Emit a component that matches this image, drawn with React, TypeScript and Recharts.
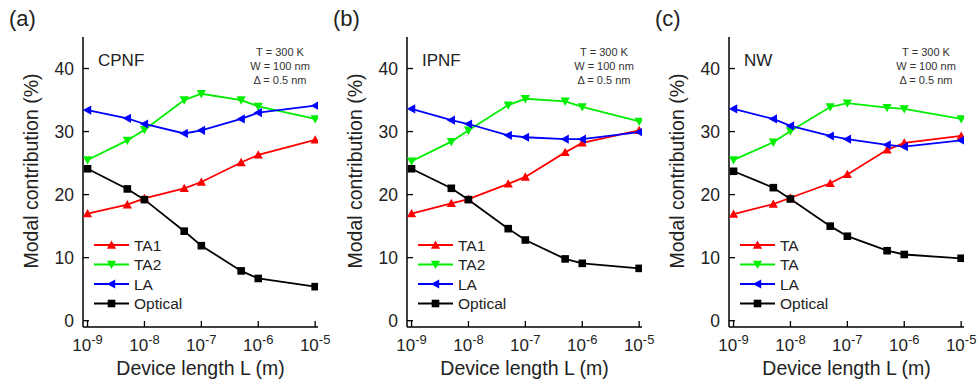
import React from 'react'
import { LineChart, Line, XAxis, YAxis } from 'recharts'

// device lengths (m)
const lengths = [1e-9, 5e-9, 1e-8, 5e-8, 1e-7, 5e-7, 1e-6, 1e-5]

const cpnfTA1 = [17.0, 18.4, 19.4, 21.0, 22.0, 25.1, 26.3, 28.7]
const cpnfTA2 = [25.5, 28.6, 30.3, 35.0, 36.0, 35.0, 34.0, 32.0]
const cpnfLA = [33.4, 32.1, 31.2, 29.7, 30.2, 32.0, 33.0, 34.1]
const cpnfOpt = [24.1, 20.9, 19.2, 14.2, 11.9, 7.9, 6.7, 5.4]

const ipnfTA1 = [17.0, 18.6, 19.3, 21.7, 22.8, 26.7, 28.2, 30.2]
const ipnfTA2 = [25.3, 28.4, 30.2, 34.2, 35.2, 34.8, 33.9, 31.6]
const ipnfLA = [33.6, 31.8, 31.2, 29.4, 29.1, 28.8, 28.8, 29.9]
const ipnfOpt = [24.1, 21.0, 19.2, 14.6, 12.8, 9.8, 9.1, 8.3]

const nwTA1 = [16.9, 18.5, 19.5, 21.8, 23.2, 27.1, 28.2, 29.3]
const nwTA2 = [25.5, 28.3, 30.1, 33.9, 34.5, 33.8, 33.6, 32.0]
const nwLA = [33.6, 32.0, 30.9, 29.3, 28.8, 27.9, 27.6, 28.6]
const nwOpt = [23.7, 21.1, 19.3, 15.0, 13.4, 11.1, 10.5, 9.9]

const xMajorTicks = [1e-9, 1e-8, 1e-7, 1e-6, 1e-5]
const minorMultipliers = [2, 3, 4, 5, 6, 7, 8, 9]
const xMinorTicks = [1e-9, 1e-8, 1e-7, 1e-6].flatMap(d => minorMultipliers.map(m => m * d))
const yMajorTicks = [0, 10, 20, 30, 40]
const yMinorTicks = [5, 15, 25, 35]

const X_DOMAIN = [Math.pow(10, -9.08), Math.pow(10, -4.95)]
const Y_DOMAIN = [-1, 45]

const FONT = 'Arial, "Liberation Sans", sans-serif'

const seriesStyle = [
  { key: 'ta1', color: '#ff0000', shape: 'up' },
  { key: 'ta2', color: '#00ee00', shape: 'down' },
  { key: 'la', color: '#0000ff', shape: 'left' },
  { key: 'opt', color: '#000000', shape: 'square' },
]

const panels = [
  { letter: '(a)', name: 'CPNF', left: 0, legend: ['TA1', 'TA2', 'LA', 'Optical'], values: [cpnfTA1, cpnfTA2, cpnfLA, cpnfOpt] },
  { letter: '(b)', name: 'IPNF', left: 324, legend: ['TA1', 'TA2', 'LA', 'Optical'], values: [ipnfTA1, ipnfTA2, ipnfLA, ipnfOpt] },
  { letter: '(c)', name: 'NW', left: 646, legend: ['TA', 'TA', 'LA', 'Optical'], values: [nwTA1, nwTA2, nwLA, nwOpt] },
]

const W = 340
const H = 385
const M = { top: 37, right: 22, bottom: 18, left: 23 }
const Y_AXIS_W = 60
const PLOT_L = M.left + Y_AXIS_W
const PLOT_R = W - M.right

function Marker({ cx, cy, shape, color }: { cx: number; cy: number; shape: string; color: string }) {
  const r = 4.6
  if (shape === 'square') {
    return <rect x={cx - 3.8} y={cy - 3.8} width={7.6} height={7.6} fill={color} />
  }
  let pts = ''
  if (shape === 'up') pts = `${cx},${cy - r} ${cx + r},${cy + r * 0.8} ${cx - r},${cy + r * 0.8}`
  if (shape === 'down') pts = `${cx},${cy + r} ${cx + r},${cy - r * 0.8} ${cx - r},${cy - r * 0.8}`
  if (shape === 'left') pts = `${cx - r},${cy} ${cx + r * 0.8},${cy - r} ${cx + r * 0.8},${cy + r}`
  return <polygon points={pts} fill={color} />
}

function XTick(props: any) {
  const { x, y, payload } = props
  const exp = Math.round(Math.log10(payload.value))
  return (
    <text x={x} y={y + 25} textAnchor="middle" fontSize={17} fill="#222" fontFamily={FONT}>
      <tspan>10</tspan>
      <tspan dy={-7} fontSize={13}>{exp}</tspan>
    </text>
  )
}

function YTick(props: any) {
  const { x, y, payload } = props
  return (
    <text x={x} y={y} dy={6} textAnchor="end" fontSize={17.5} fill="#222" fontFamily={FONT}>
      {payload.value}
    </text>
  )
}

const noTick = () => <g />

const axisLine = { stroke: '#000', strokeWidth: 1.5 }
const tickLine = { stroke: '#000', strokeWidth: 1.3 }

function Panel({ panel }: { panel: (typeof panels)[number] }) {
  const rows = lengths.map((L, i) => ({
    L,
    ta1: panel.values[0][i],
    ta2: panel.values[1][i],
    la: panel.values[2][i],
    opt: panel.values[3][i],
  }))
  const plotCx = (PLOT_L + PLOT_R) / 2
  return (
    <div style={{ position: 'absolute', left: panel.left, top: 0, width: W, height: H }}>
      <LineChart width={W} height={H} data={rows} margin={M}>
        <XAxis xAxisId="b" dataKey="L" type="number" scale="log" domain={X_DOMAIN} allowDataOverflow
          ticks={xMajorTicks} interval={0} tickSize={-6} tickMargin={5} height={40}
          tick={<XTick />} axisLine={axisLine} tickLine={tickLine} />
        <XAxis xAxisId="bm" dataKey="L" type="number" scale="log" domain={X_DOMAIN} allowDataOverflow mirror
          ticks={xMinorTicks} interval={0} tickSize={3} height={0} tick={noTick} axisLine={axisLine} tickLine={tickLine} />
        <XAxis xAxisId="t" orientation="top" dataKey="L" type="number" scale="log" domain={X_DOMAIN} allowDataOverflow mirror
          ticks={xMajorTicks} interval={0} tickSize={6} height={0} tick={noTick} axisLine={axisLine} tickLine={tickLine} />
        <XAxis xAxisId="tm" orientation="top" dataKey="L" type="number" scale="log" domain={X_DOMAIN} allowDataOverflow mirror
          ticks={xMinorTicks} interval={0} tickSize={3} height={0} tick={noTick} axisLine={axisLine} tickLine={tickLine} />
        <YAxis yAxisId="l" type="number" domain={Y_DOMAIN} allowDataOverflow ticks={yMajorTicks} interval={0}
          tickSize={-6} tickMargin={15} width={Y_AXIS_W} tick={<YTick />} axisLine={axisLine} tickLine={tickLine} />
        <YAxis yAxisId="lm" type="number" domain={Y_DOMAIN} allowDataOverflow mirror ticks={yMinorTicks} interval={0}
          tickSize={3} width={0} tick={noTick} axisLine={axisLine} tickLine={tickLine} />
        <YAxis yAxisId="r" orientation="right" type="number" domain={Y_DOMAIN} allowDataOverflow mirror ticks={yMajorTicks} interval={0}
          tickSize={6} width={0} tick={noTick} axisLine={axisLine} tickLine={tickLine} />
        <YAxis yAxisId="rm" orientation="right" type="number" domain={Y_DOMAIN} allowDataOverflow mirror ticks={yMinorTicks} interval={0}
          tickSize={3} width={0} tick={noTick} axisLine={axisLine} tickLine={tickLine} />
        {seriesStyle.map(s => (
          <Line key={s.key} xAxisId="b" yAxisId="l" dataKey={s.key} stroke={s.color} strokeWidth={1.8}
            isAnimationActive={false}
            dot={(p: any) => <Marker key={`${s.key}-${p.index}`} cx={p.cx} cy={p.cy} shape={s.shape} color={s.color} />} />
        ))}
      </LineChart>
      <svg width={W} height={H} style={{ position: 'absolute', left: 0, top: 0, pointerEvents: 'none' }} fontFamily={FONT}>
        <text x={9} y={26} fontSize={22} fill="#222">{panel.letter}</text>
        <text transform={`translate(38,${171}) rotate(-90)`} textAnchor="middle" fontSize={19.5} fill="#222">
          Modal contribution (%)
        </text>
        <text x={plotCx} y={375} textAnchor="middle" fontSize={19.5} fill="#222">Device length L (m)</text>
        <text x={PLOT_L + 15} y={66} fontSize={17} fill="#222">{panel.name}</text>
        <g fontSize={11} fill="#333" textAnchor="middle">
          <text x={PLOT_R - 38} y={56}>T = 300 K</text>
          <text x={PLOT_R - 38} y={70}>W = 100 nm</text>
          <text x={PLOT_R - 38} y={84}>Δ = 0.5 nm</text>
        </g>
        {seriesStyle.map((s, i) => {
          const cy = 245 + i * 19.5
          return (
            <g key={s.key}>
              <line x1={PLOT_L + 11} x2={PLOT_L + 46} y1={cy} y2={cy} stroke={s.color} strokeWidth={1.8} />
              <Marker cx={PLOT_L + 28.5} cy={cy} shape={s.shape} color={s.color} />
              <text x={PLOT_L + 51} y={cy + 5.5} fontSize={15.5} fill="#222">{panel.legend[i]}</text>
            </g>
          )
        })}
      </svg>
    </div>
  )
}

export default function App() {
  return (
    <div style={{ position: 'absolute', left: 0, top: 0, width: 978, height: 385, background: '#fff' }}>
      {panels.map(p => (
        <Panel key={p.letter} panel={p} />
      ))}
    </div>
  )
}
